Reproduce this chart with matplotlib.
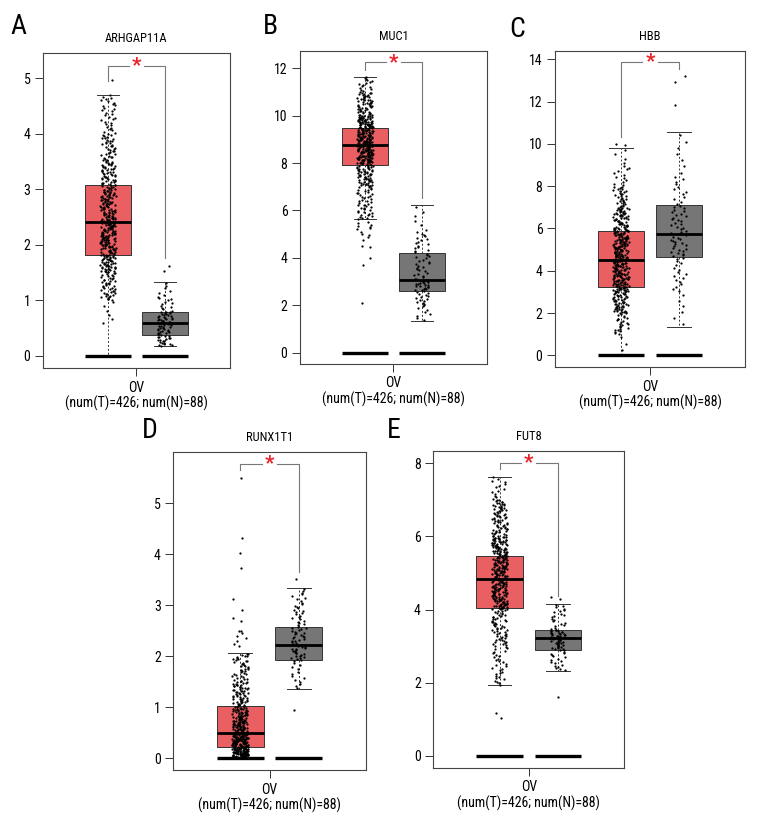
import numpy as np
import matplotlib
matplotlib.use("Agg")
import matplotlib.pyplot as plt
from matplotlib import font_manager

# pick a narrow font if one is installed
names = {f.name for f in font_manager.fontManager.ttflist}
for fam in ["Liberation Sans Narrow", "Roboto Condensed", "DejaVu Sans Condensed", "DejaVu Sans"]:
    if fam in names:
        FONT = fam
        break
plt.rcParams["font.family"] = [FONT, "DejaVu Sans"]

# ---- data ----------------------------------------------------------------
genes = ["ARHGAP11A", "MUC1", "HBB", "RUNX1T1", "FUT8"]
letters = ["A", "B", "C", "D", "E"]
xlabel = "OV\n(num(T)=426; num(N)=88)"

# box stats: (lower whisker, q1, median, q3, upper whisker)
tumor_box = [(0.0, 1.82, 2.40, 3.08, 4.70),
             (5.62, 7.92, 8.75, 9.50, 11.65),
             (0.0, 3.25, 4.50, 5.90, 9.82),
             (0.0, 0.23, 0.50, 1.02, 2.06),
             (1.93, 4.03, 4.83, 5.47, 7.63)]
normal_box = [(0.17, 0.38, 0.59, 0.78, 1.33),
              (1.35, 2.62, 3.07, 4.20, 6.22),
              (1.35, 4.63, 5.75, 7.10, 10.55),
              (1.35, 1.93, 2.22, 2.57, 3.33),
              (2.32, 2.90, 3.22, 3.45, 4.15)]

# dot density: bin edges and counts of points per bin (estimated)
tumor_edges = [[0.55, 1.0, 1.5, 2.0, 2.5, 3.0, 3.5, 4.0, 4.5, 4.7],
               [5.62, 6.0, 7.0, 8.0, 9.0, 10.0, 11.0, 11.65],
               [0.1, 1.0, 2.0, 3.0, 4.0, 5.0, 6.0, 7.0, 8.0, 9.0, 9.82],
               [0.0, 0.25, 0.5, 0.75, 1.0, 1.5, 2.06],
               [1.93, 3.0, 4.0, 5.0, 6.0, 7.0, 7.63]]
tumor_counts = [[6, 45, 80, 95, 75, 55, 38, 22, 9],
                [12, 30, 62, 125, 110, 55, 15],
                [3, 25, 55, 80, 85, 75, 55, 30, 12, 4],
                [110, 95, 60, 45, 60, 40],
                [30, 55, 125, 130, 70, 14]]
tumor_out = [[4.97],
             [5.5, 5.45, 5.4, 5.35, 5.3, 5.25, 5.2, 5.1, 5.0, 4.95, 4.9, 4.75, 4.5, 4.45, 4.0, 3.7, 2.1],
             [9.95, 10.02],
             [2.2, 2.25, 2.3, 2.35, 2.4, 2.45, 2.5, 2.5, 2.7, 2.75, 2.9, 3.12, 3.73, 4.02, 4.32, 5.5],
             [1.18, 1.03]]

normal_edges = [[0.17, 0.4, 0.6, 0.8, 1.1, 1.33],
                [1.35, 2.0, 2.6, 3.1, 4.2, 5.1, 6.22],
                [1.35, 3.0, 4.6, 5.75, 7.1, 8.5, 10.55],
                [1.35, 1.93, 2.22, 2.57, 3.0, 3.33],
                [2.32, 2.9, 3.22, 3.45, 4.15]]
normal_counts = [[22, 22, 24, 13, 5],
                 [8, 14, 22, 22, 16, 6],
                 [6, 16, 22, 22, 12, 7],
                 [14, 22, 22, 18, 10],
                 [18, 25, 22, 20]]
normal_out = [[1.52, 1.62],
              [],
              [11.85, 12.95, 13.2],
              [0.95, 3.52],
              [1.6, 4.35, 4.3]]

yticks = [[0, 1, 2, 3, 4, 5], [0, 2, 4, 6, 8, 10, 12], [0, 2, 4, 6, 8, 10, 12, 14],
          [0, 1, 2, 3, 4, 5], [0, 2, 4, 6, 8]]
ylims = [(-0.22, 5.45), (-0.48, 12.73), (-0.57, 14.41), (-0.23, 6.0), (-0.32, 8.33)]
# bracket: (top, left drop, right drop)
brackets = [(5.22, 4.95, 1.76), (12.25, 11.93, 6.51), (13.87, 10.34, 13.53),
            (5.78, 5.65, 3.66), (8.01, 7.83, 4.37)]

# axes rectangles in figure fraction
rects = [[0.0551, 0.5619, 0.2397, 0.375],
         [0.3846, 0.5667, 0.2397, 0.3726],
         [0.7115, 0.5627, 0.2436, 0.3769],
         [0.2222, 0.0833, 0.2467, 0.3782],
         [0.5555, 0.0861, 0.2449, 0.3770]]

RED = "#E95F62"
GRAY = "#767676"
POS = [-0.5, 0.5]
W = 0.8


def dots(edges, counts, extra):
    ys = []
    for lo, hi, n in zip(edges[:-1], edges[1:], counts):
        ys += [lo + (i + 0.5) / n * (hi - lo) for i in range(n)]
    return np.array(ys + list(extra))


def spread(n, seed):
    # deterministic scatter in [-0.5, 0.5) used for the horizontal jitter only
    i = np.arange(n) + seed * 1000
    return (np.sin(i * 12.9898 + 78.233) * 43758.5453) % 1.0 - 0.5


fig = plt.figure(figsize=(7.8, 8.4), dpi=100)

for k in range(5):
    ax = fig.add_axes(rects[k])
    stats = []
    for b in (tumor_box[k], normal_box[k]):
        stats.append(dict(whislo=b[0], q1=b[1], med=b[2], q3=b[3], whishi=b[4], fliers=[]))
    bp = ax.bxp(stats, positions=POS, widths=W, patch_artist=True, showfliers=False,
                boxprops=dict(linewidth=0.7, edgecolor="#333333"),
                medianprops=dict(color="black", linewidth=2.0),
                whiskerprops=dict(linestyle=(0, (2, 2)), linewidth=0.7, color="#333333"),
                capprops=dict(linewidth=0.7, color="#333333"), capwidths=0.4)
    for patch, c in zip(bp["boxes"], [RED, GRAY]):
        patch.set_facecolor(c)

    # thick bars at zero
    for p in POS:
        ax.hlines(0, p - W / 2, p + W / 2, color="black", linewidth=2.4, zorder=4)

    # jittered points
    groups = [dots(tumor_edges[k], tumor_counts[k], tumor_out[k]),
              dots(normal_edges[k], normal_counts[k], normal_out[k])]
    for g, (p, ys) in enumerate(zip(POS, groups)):
        jit = spread(len(ys), 2 * k + g) * 0.27
        ax.scatter(p + jit, ys, s=2.6, color="black", linewidths=0, zorder=5)

    # significance bracket
    top, ld, rd = brackets[k]
    gap = 0.13
    bc = "#777777"
    ax.plot([POS[0], POS[0], -gap], [ld, top, top], color=bc, linewidth=0.8, zorder=3)
    ax.plot([gap, POS[1], POS[1]], [top, top, rd], color=bc, linewidth=0.8, zorder=3)
    ax.text(0, top, "*", color="#E8232A", fontsize=15, ha="center", va="center",
            fontweight="bold", zorder=6)

    ax.set_xlim(-1.64, 1.64)
    ax.set_ylim(*ylims[k])
    ax.set_yticks(yticks[k])
    ax.set_xticks([0])
    ax.set_xticklabels([xlabel], fontsize=10, linespacing=1.1)
    ax.tick_params(axis="y", labelsize=10, length=6, width=0.7, color="#333333", pad=3)
    ax.tick_params(axis="x", length=6, width=0.7, color="#333333", pad=3)
    for sp in ax.spines.values():
        sp.set_linewidth(0.8)
        sp.set_color("#444444")
    ax.set_title(genes[k], fontsize=9, pad=8)

# panel letters
letter_xy = [(0.013, 0.968), (0.337, 0.968), (0.653, 0.965), (0.182, 0.488), (0.496, 0.488)]
for L, (x, y) in zip(letters, letter_xy):
    fig.text(x, y, L, fontsize=20, ha="left", va="center")

fig.savefig("out.png", dpi=100)
